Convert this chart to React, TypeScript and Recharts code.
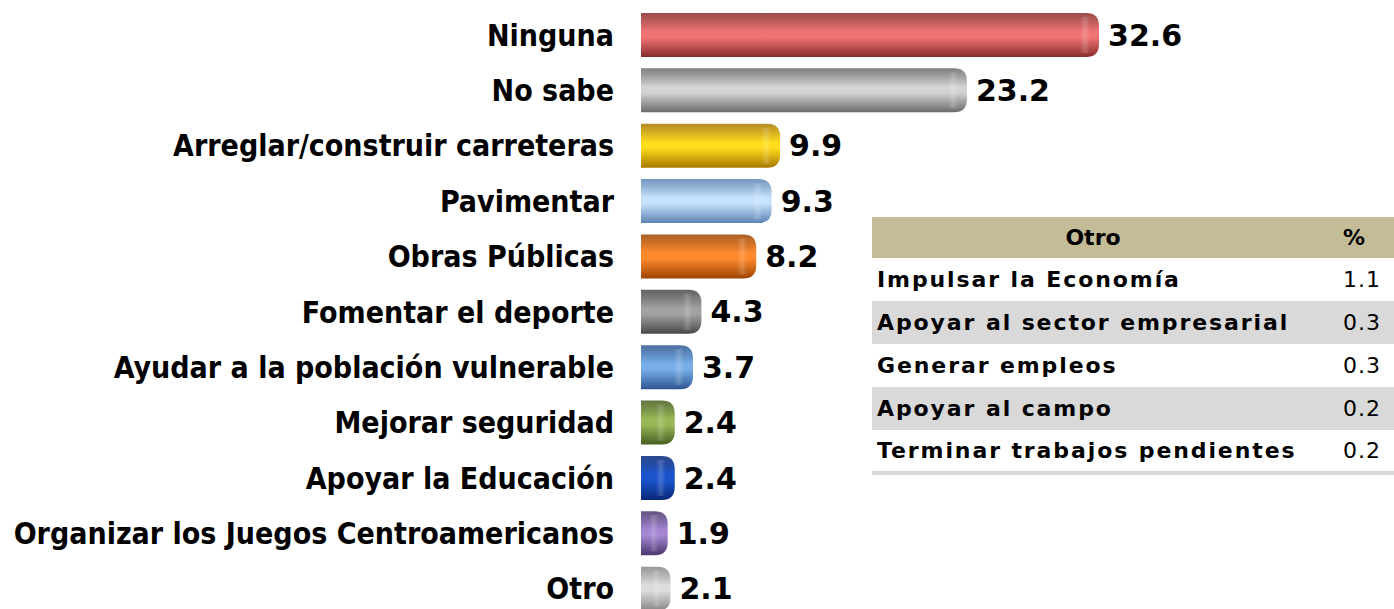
import { Bar, BarChart, Cell, LabelList, XAxis, YAxis } from "recharts";

const categorias = [
  "Ninguna",
  "No sabe",
  "Arreglar/construir carreteras",
  "Pavimentar",
  "Obras Públicas",
  "Fomentar el deporte",
  "Ayudar a la población vulnerable",
  "Mejorar seguridad",
  "Apoyar la Educación",
  "Organizar los Juegos Centroamericanos",
  "Otro",
];
const porcentajes = [32.6, 23.2, 9.9, 9.3, 8.2, 4.3, 3.7, 2.4, 2.4, 1.9, 2.1];

// [oscuro, claro] por barra
const colores = [
  ["#8a2c2c", "#f07474"],
  ["#6a6a6a", "#d4d4d4"],
  ["#a87800", "#ffdc1c"],
  ["#5c84b4", "#c8e2fc"],
  ["#9c4400", "#ff8a2e"],
  ["#484848", "#a2a2a2"],
  ["#2c5690", "#78aee8"],
  ["#465e20", "#98b858"],
  ["#082878", "#1a54cc"],
  ["#4a366e", "#a486d2"],
  ["#868686", "#dcdcdc"],
];

const otroItems = [
  "Impulsar la Economía",
  "Apoyar al sector empresarial",
  "Generar empleos",
  "Apoyar al campo",
  "Terminar trabajos pendientes",
];
const otroValores = ["1.1", "0.3", "0.3", "0.2", "0.2"];

const data = categorias.map((c, i) => ({ categoria: c, valor: porcentajes[i] }));

function Tick(props: any) {
  const { x, y, payload } = props;
  return (
    <text
      x={x}
      y={y}
      dy={11}
      textAnchor="end"
      fontFamily="'DejaVu Sans Condensed', 'DejaVu Sans', sans-serif"
      fontWeight="bold"
      fontSize={30}
      fill="#000"
    >
      {payload.value}
    </text>
  );
}

function BarraBrillo(props: any) {
  const { x, y, width, height, index } = props;
  if (!width || width <= 0) return null;
  const r = Math.min(13, width, height / 2);
  const d = `M${x},${y} H${x + width - r} Q${x + width},${y} ${x + width},${y + r} V${y + height - r} Q${x + width},${y + height} ${x + width - r},${y + height} H${x} Z`;
  return (
    <g>
      <path d={d} fill={`url(#g${index})`} />
      <rect x={x + width - r - 6} y={y + 4} width={10} height={height - 8} fill="url(#brillo)" />
    </g>
  );
}

export default function App() {
  return (
    <div
      style={{
        position: "fixed",
        left: 0,
        top: 0,
        width: 1394,
        height: 609,
        overflow: "hidden",
        background: "#fff",
      }}
    >
      <BarChart
        width={1394}
        height={616}
        data={data}
        layout="vertical"
        margin={{ top: 7, right: 191, left: 0, bottom: 0 }}
      >
        <defs>
          {colores.map(([osc, cla], i) => (
            <linearGradient key={i} id={`g${i}`} x1="0" y1="0" x2="0" y2="1">
              <stop offset="0%" stopColor={osc} stopOpacity={0.85} />
              <stop offset="42%" stopColor={cla} />
              <stop offset="55%" stopColor={cla} />
              <stop offset="100%" stopColor={osc} />
            </linearGradient>
          ))}
          <linearGradient id="brillo" x1="0" y1="0" x2="1" y2="0">
            <stop offset="0%" stopColor="#fff" stopOpacity={0} />
            <stop offset="50%" stopColor="#fff" stopOpacity={0.18} />
            <stop offset="100%" stopColor="#fff" stopOpacity={0} />
          </linearGradient>
        </defs>
        <XAxis type="number" domain={[0, 40]} hide />
        <YAxis
          type="category"
          dataKey="categoria"
          width={641}
          axisLine={false}
          tickLine={false}
          tickSize={0}
          tickMargin={27}
          interval={0}
          tick={<Tick />}
        />
        <Bar dataKey="valor" barSize={44} shape={<BarraBrillo />} isAnimationActive={false}>
          {data.map((_, i) => (
            <Cell key={i} fill={`url(#g${i})`} />
          ))}
          <LabelList
            dataKey="valor"
            position="right"
            offset={9}
            fill="#000"
            fontSize={30}
            fontWeight="bold"
            fontFamily="'DejaVu Sans', sans-serif"
            formatter={(v: any) => Number(v).toFixed(1)}
          />
        </Bar>
      </BarChart>

      <table
        style={{
          position: "absolute",
          left: 872,
          top: 217,
          width: 618,
          borderCollapse: "collapse",
          fontFamily: "'DejaVu Sans', sans-serif",
          fontSize: 22,
          color: "#000",
          tableLayout: "fixed",
          borderBottom: "4px solid #d9d9d9",
        }}
      >
        <colgroup>
          <col style={{ width: 442 }} />
          <col style={{ width: 176 }} />
        </colgroup>
        <thead>
          <tr style={{ background: "#c4bb97", height: 41 }}>
            <th style={{ fontWeight: "bold", textAlign: "center", padding: 0 }}>Otro</th>
            <th style={{ fontWeight: "bold", textAlign: "left", padding: 0, paddingLeft: 29 }}>%</th>
          </tr>
        </thead>
        <tbody>
          {otroItems.map((t, i) => (
            <tr key={t} style={{ background: i % 2 === 1 ? "#d9d9d9" : "#fff", height: 43 }}>
              <td
                style={{
                  fontWeight: "bold",
                  padding: 0,
                  paddingLeft: 5,
                  letterSpacing: 1.9,
                  whiteSpace: "nowrap",
                }}
              >
                {t}
              </td>
              <td style={{ padding: 0, paddingLeft: 29, letterSpacing: 1 }}>{otroValores[i]}</td>
            </tr>
          ))}
        </tbody>
      </table>
    </div>
  );
}
